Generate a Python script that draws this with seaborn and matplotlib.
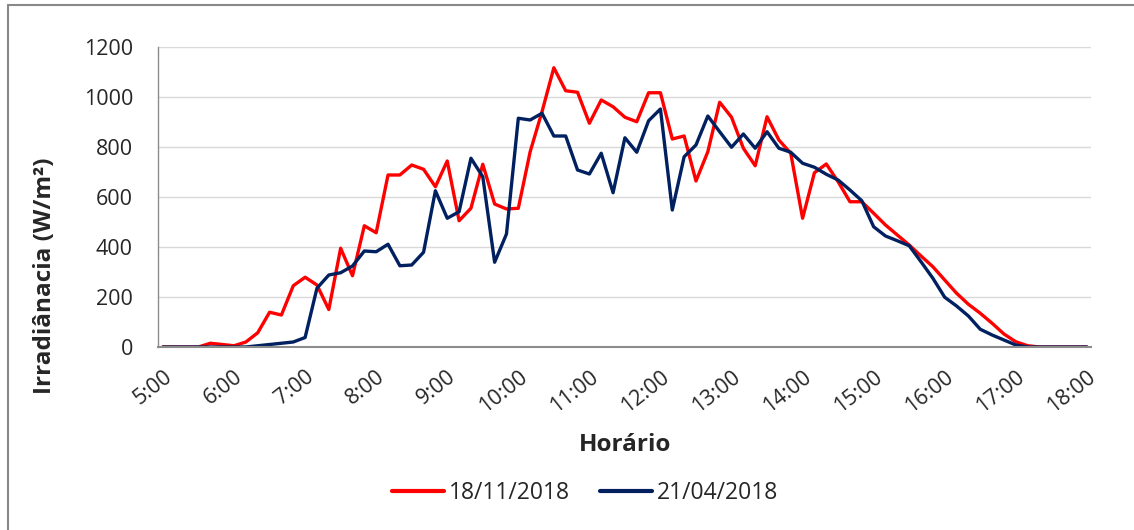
import numpy as np
import pandas as pd
import matplotlib
matplotlib.use("Agg")
import matplotlib.pyplot as plt
import seaborn as sns
from matplotlib.lines import Line2D

# =========================================
# DATA (10 min steps, 5:00 -> 18:00)
# =========================================

nov_18 = [0, 0, 0, 0, 15, 10, 5, 20, 57, 139, 128, 245, 279, 248, 150, 395,
          285, 485, 457, 688, 688, 728, 711, 641, 744, 505, 555, 731, 572, 552,
          555, 781, 941, 1117, 1025, 1019, 895, 988, 961, 919, 901, 1017, 1017,
          832, 844, 664, 781, 979, 919, 795, 725, 921, 828, 775, 515, 697, 732,
          661, 581, 581, 535, 488, 448, 408, 364, 321, 268, 215, 171, 135, 95,
          52, 21, 5, 0, 0, 0, 0, 0]

abr_18 = [0, 0, 0, 0, 0, 0, 0, 0, 5, 10, 15, 20, 38, 235, 288, 297,
          324, 384, 381, 411, 325, 328, 379, 625, 515, 541, 755, 681, 339, 452,
          915, 908, 935, 844, 844, 708, 692, 775, 617, 837, 779, 905, 952,
          548, 761, 808, 924, 861, 799, 852, 795, 861, 795, 779, 735, 719, 691,
          668, 628, 585, 481, 444, 425, 405, 341, 275, 199, 164, 124, 71, 48,
          28, 8, 0, 0, 0, 0, 0, 0]

hour_labels = ["5:00", "6:00", "7:00", "8:00", "9:00", "10:00", "11:00",
               "12:00", "13:00", "14:00", "15:00", "16:00", "17:00", "18:00"]

df = pd.DataFrame({
    "idx": np.arange(len(nov_18)),
    "18/11/2018": nov_18,
    "21/04/2018": abr_18,
})
long_df = df.melt(id_vars="idx", var_name="Dia", value_name="Irr")

# =========================================
# PLOT
# =========================================

sns.set_style("white")
plt.rcParams["font.family"] = ["Open Sans", "DejaVu Sans"]

W, H = 1134, 530
fig = plt.figure(figsize=(11.34, 5.3), dpi=100)
ax = fig.add_axes([158 / W, 1 - 347 / H, (1091 - 158) / W, 300 / H])

sns.lineplot(
    data=long_df,
    x="idx",
    y="Irr",
    hue="Dia",
    palette=["#ff0000", "#002060"],
    linewidth=2.4,
    ax=ax,
    legend=False
)

ax.set_xlim(-0.42, 78.35)
ax.set_ylim(0, 1200)
ax.set_yticks(range(0, 1201, 200))
ax.set_xticks(range(0, 79, 6))
ax.set_xticklabels(hour_labels, rotation=38, ha="right",
                   rotation_mode="anchor", fontsize=15.5)
ax.tick_params(axis="y", labelsize=15.5, length=0, pad=18)
ax.tick_params(axis="x", length=0, pad=14)

ax.grid(axis="y", color="#d9d9d9", linewidth=1)
ax.set_axisbelow(True)
for s in ["top", "right"]:
    ax.spines[s].set_visible(False)
ax.spines["bottom"].set_color("#8c8c8c")
ax.spines["bottom"].set_linewidth(1.5)
ax.spines["left"].set_color("#8c8c8c")
ax.spines["left"].set_linewidth(1)

ax.set_xlabel("Horário", fontsize=17.5, fontweight="bold")
ax.set_ylabel("Irradiânacia (W/m²)", fontsize=17.5, fontweight="bold")
# label positions in axes coords
ax.xaxis.set_label_coords((625 - 158) / (1091 - 158), (347 - 445) / 300)
ax.yaxis.set_label_coords((45 - 158) / (1091 - 158), (347 - 276) / 300)
ax.xaxis.label.set_va("center")
ax.yaxis.label.set_va("center")

# legend
handles = [Line2D([0], [0], color="#ff0000", lw=3),
           Line2D([0], [0], color="#002060", lw=3)]
fig.legend(handles, ["18/11/2018", "21/04/2018"], loc="center",
           bbox_to_anchor=(585 / W, 1 - 493 / H), ncol=2, frameon=False,
           fontsize=16.5, handlelength=2.3, columnspacing=1.3,
           handletextpad=0.2)

# chart frame
fig.add_artist(Line2D([8 / W, 8 / W], [0, 1 - 5 / H],
                      color="#888888", lw=1.5, transform=fig.transFigure))
fig.add_artist(Line2D([8 / W, 1], [1 - 5 / H, 1 - 5 / H],
                      color="#888888", lw=1.5, transform=fig.transFigure))

plt.savefig("out.png", dpi=100)
